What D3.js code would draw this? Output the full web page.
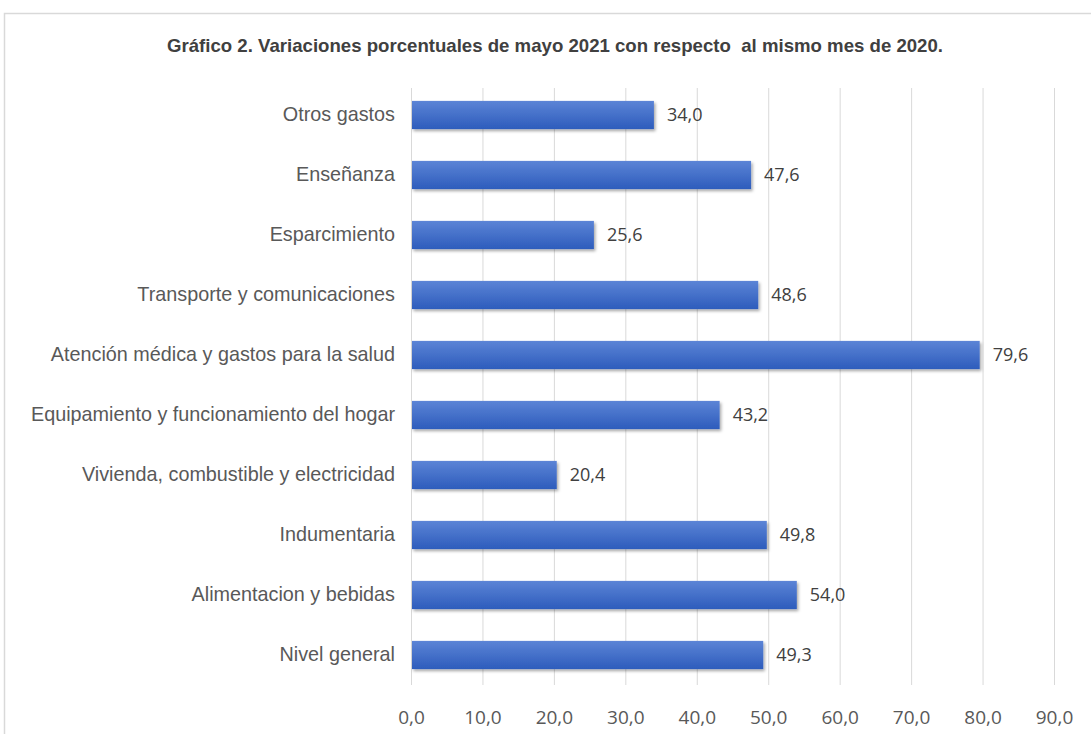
<!DOCTYPE html>
<html>
<head>
<meta charset="utf-8">
<script src="https://cdn.jsdelivr.net/npm/d3@7.9.0/dist/d3.min.js"></script>
<style>
  body { margin: 0; background: #fff; }
  svg { display: block; }
</style>
</head>
<body>
<svg id="chart" width="1091" height="734"></svg>
<script>
// === Data ===
const categories = [
  'Otros gastos',
  'Enseñanza',
  'Esparcimiento',
  'Transporte y comunicaciones',
  'Atención médica y gastos para la salud',
  'Equipamiento y funcionamiento del hogar',
  'Vivienda, combustible y electricidad',
  'Indumentaria',
  'Alimentacion y bebidas',
  'Nivel general'
];
const values = [34.0, 47.6, 25.6, 48.6, 79.6, 43.2, 20.4, 49.8, 54.0, 49.3];
const ticks = [0, 10, 20, 30, 40, 50, 60, 70, 80, 90];
const title = 'Gráfico 2. Variaciones porcentuales de mayo 2021 con respecto  al mismo mes de 2020.';

const fmt = (v) => v.toFixed(1).replace('.', ',');

const svg = d3.select('#chart');

// frame
svg.append('rect')
  .attr('x', 4.5).attr('y', 13.5)
  .attr('width', 1100).attr('height', 800)
  .attr('fill', '#fff').attr('stroke', '#d9d9d9').attr('stroke-width', 1.5);

// gradient + shadow for bars
const defs = svg.append('defs');
const grad = defs.append('linearGradient')
  .attr('id', 'barGrad').attr('x1', 0).attr('y1', 0).attr('x2', 0).attr('y2', 1);
grad.append('stop').attr('offset', '0%').attr('stop-color', '#5c84d6');
grad.append('stop').attr('offset', '100%').attr('stop-color', '#2d5cbc');

const shadow = defs.append('filter').attr('id', 'shadow')
  .attr('x', '-5%').attr('y', '-30%').attr('width', '110%').attr('height', '170%');
shadow.append('feDropShadow')
  .attr('dx', 1.5).attr('dy', 2).attr('stdDeviation', 1.8)
  .attr('flood-color', '#000').attr('flood-opacity', 0.35);

// scales
const x = d3.scaleLinear().domain([0, 90]).range([411, 1054]);
const y = d3.scaleBand().domain(categories).range([85, 685]).paddingInner(0.53).paddingOuter(0.265);

// gridlines
svg.append('g')
  .selectAll('line')
  .data(ticks)
  .join('line')
  .attr('x1', (d) => x(d) + 0.5).attr('x2', (d) => x(d) + 0.5)
  .attr('y1', 88).attr('y2', 685)
  .attr('stroke', '#d9d9d9').attr('stroke-width', 1);

// x axis tick labels
const xAxis = d3.axisBottom(x).tickValues(ticks).tickFormat(fmt).tickSize(0).tickPadding(0);
const gx = svg.append('g').attr('transform', 'translate(0,710)').call(xAxis);
gx.select('.domain').remove();
gx.selectAll('text')
  .attr('font-family', '"Open Sans", "Noto Sans", sans-serif')
  .attr('font-size', 19)
  .attr('fill', '#595959');

// bars
svg.append('g')
  .selectAll('rect')
  .data(values)
  .join('rect')
  .attr('x', x(0) + 1)
  .attr('y', (d, i) => y(categories[i]))
  .attr('width', (d) => x(d) - x(0) - 1)
  .attr('height', y.bandwidth())
  .attr('fill', 'url(#barGrad)')
  .attr('filter', 'url(#shadow)');

// value labels
svg.append('g')
  .selectAll('text')
  .data(values)
  .join('text')
  .attr('x', (d) => x(d) + 13)
  .attr('y', (d, i) => y(categories[i]) + y.bandwidth() / 2)
  .attr('dy', '0.36em')
  .attr('font-family', '"Open Sans", "Noto Sans", sans-serif')
  .attr('font-size', 18)
  .attr('fill', '#404040')
  .text(fmt);

// category labels
const yAxis = d3.axisLeft(y).tickSize(0).tickPadding(0);
const gy = svg.append('g').attr('transform', 'translate(395,0)').call(yAxis);
gy.select('.domain').remove();
gy.selectAll('text')
  .attr('font-family', '"Liberation Sans", Arial, sans-serif')
  .attr('font-size', 19.8)
  .attr('fill', '#595959');

// title
svg.append('text')
  .attr('x', 555).attr('y', 52)
  .attr('text-anchor', 'middle')
  .attr('textLength', 776)
  .attr('lengthAdjust', 'spacingAndGlyphs')
  .style('white-space', 'pre')
  .attr('font-family', '"Liberation Sans", Arial, sans-serif')
  .attr('font-weight', 'bold')
  .attr('font-size', 19)
  .attr('fill', '#404040')
  .text(title);
</script>
</body>
</html>
